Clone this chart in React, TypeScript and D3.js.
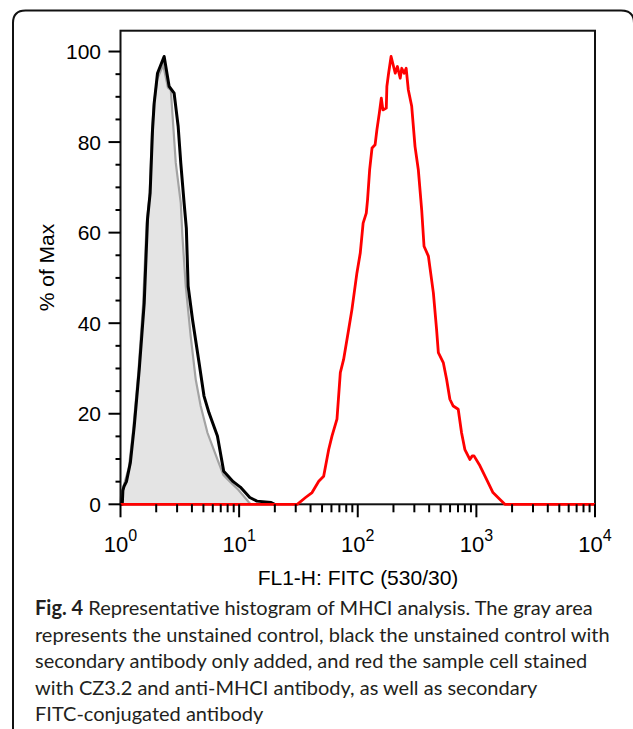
import React from 'react';
import * as d3 from 'd3';

const W = 633;
const H = 729;

// x tick exponents (decades) and y ticks
const xDecades = [0, 1, 2, 3, 4];
const yMajorTicks = [0, 20, 40, 60, 80, 100];
const yMinorTicks = [5, 10, 15, 25, 30, 35, 45, 50, 55, 65, 70, 75, 85, 90, 95];

// Gray: unstained control (filled)
const grayX = [1.0, 1.012, 1.047, 1.175, 1.274, 1.413, 1.549, 1.66, 1.758, 1.841, 1.905, 2.042, 2.291, 2.512, 2.655, 2.924, 3.221, 3.327, 3.548, 3.908, 4.305, 4.742, 5.408, 6.561, 7.36, 8.37, 9.84, 11.6, 12.3, 12.6];
const grayY = [0, 2, 3.5, 8, 16, 29, 44, 62, 68, 82, 88, 94, 97, 92, 91.5, 75.4, 66.6, 59.2, 48.2, 37.1, 27.6, 21.7, 15.8, 9.9, 6.5, 5.0, 3.2, 1.0, 0.2, 0];

// Black: unstained control + secondary antibody
const blackX = [1.0, 1.035, 1.047, 1.072, 1.122, 1.211, 1.306, 1.439, 1.585, 1.69, 1.778, 1.862, 1.923, 2.051, 2.333, 2.57, 2.831, 3.062, 3.221, 3.436, 3.589, 3.715, 4.046, 4.592, 5.058, 5.572, 6.561, 7.413, 8.913, 10.23, 12.3, 14.13, 18.62, 19.95];
const blackY = [0, 0, 3.0, 4.0, 5.0, 9.2, 17.3, 29.8, 44.5, 63, 68.8, 82.7, 88.6, 95.2, 98.9, 92.3, 90.8, 83.5, 75.4, 66.6, 61, 48.2, 40.8, 31.3, 23.9, 20.2, 15.1, 7.3, 5.0, 3.8, 1.5, 0.7, 0.4, 0];

// Red: CZ3.2 stained with anti-MHCI + FITC secondary
const redX = [1.0, 30.9, 36.3, 41.2, 46.9, 51.6, 56.9, 60.7, 66.8, 71.3, 76.0, 83.8, 89.3, 98.4, 105, 111, 118, 121, 126, 132, 140, 145, 152, 158, 163, 174, 176, 182, 191, 207, 216, 228, 235, 246, 256, 267, 285, 304, 324, 346, 362, 394, 434, 462, 478, 526, 561, 598, 638, 703, 750, 800, 881, 923, 955, 1072, 1219, 1380, 1574, 1738, 10000];
const redY = [0, 0, 1.5, 2.6, 5.1, 6.2, 12.1, 15.1, 18.8, 29.1, 32.0, 38.6, 43.0, 51.1, 55.5, 62.1, 64.3, 67.3, 73.9, 78.7, 79.4, 82.7, 86.4, 89.7, 87.1, 87.5, 92.3, 95.2, 98.9, 95.2, 96.7, 94.1, 96.3, 95.2, 96.3, 91.5, 87.9, 79.0, 73.9, 65, 57.0, 54.8, 46.7, 38.6, 33.5, 31.3, 27.6, 23.2, 21.7, 21.0, 15.8, 12.1, 9.9, 10.7, 10.7, 8.5, 5.5, 2.6, 1.1, 0, 0];

const captionLines = [
  'represents the unstained control, black the unstained control with',
  'secondary antibody only added, and red the sample cell stained',
  'with CZ3.2 and anti-MHCI antibody, as well as secondary',
  'FITC-conjugated antibody',
];

const left = 120.5;
const right = 595;
const top = 30.7;
const bottom = 504.3;

export default function App() {
  const x = d3.scaleLog().domain([1, 10000]).range([left, right]);
  const y = d3.scaleLinear().domain([0, 104.6]).range([bottom, top]);

  const zip = (xs: number[], ys: number[]) => xs.map((v, i) => [v, ys[i]] as [number, number]);
  const gray = zip(grayX, grayY);
  const black = zip(blackX, blackY);
  const red = zip(redX, redY);

  const line = d3.line<[number, number]>().x(d => x(d[0])).y(d => y(d[1]));
  const area = d3.area<[number, number]>().x(d => x(d[0])).y0(y(0)).y1(d => y(d[1]));

  const minorX: number[] = [];
  for (let dec = 0; dec < 4; dec++) {
    for (let m = 2; m <= 9; m++) minorX.push(m * Math.pow(10, dec));
  }

  const axisFont = "Arial, 'Liberation Sans', sans-serif";
  const capFont = "Lato, 'Open Sans', sans-serif";

  return (
    <svg width={W} height={H} style={{ position: 'absolute', left: 0, top: 0, background: '#fff' }}>
      <rect x={0} y={0} width={W} height={H} fill="#fff" />
      {/* outer rounded frame */}
      <path d={`M13,${H} V23 Q13,10.5 25.5,10.5 H621 Q634,10.5 634,23 V${H}`} fill="none" stroke="#111" strokeWidth={2} />

      {/* gray area */}
      <path d={area(gray) || ''} fill="#e4e4e4" stroke="none" />
      <path d={line(gray) || ''} fill="none" stroke="#a3a3a3" strokeWidth={2.2} />

      {/* plot box */}
      <rect x={left} y={top} width={right - left} height={bottom - top} fill="none" stroke="#111" strokeWidth={2} />

      {/* black line */}
      <path d={line(black) || ''} fill="none" stroke="#000" strokeWidth={3} strokeLinejoin="round" />
      {/* red line */}
      <path d={line(red) || ''} fill="none" stroke="#ff0000" strokeWidth={2.8} strokeLinejoin="round" />

      {/* y ticks */}
      {yMajorTicks.map(t => (
        <g key={'ym' + t}>
          <line x1={left - 12} x2={left} y1={y(t)} y2={y(t)} stroke="#000" strokeWidth={2} />
          <text x={101} y={y(t) + 7.5} textAnchor="end" fontFamily={axisFont} fontSize={21} fill="#000">{t}</text>
        </g>
      ))}
      {yMinorTicks.map(t => (
        <line key={'yn' + t} x1={left - 5} x2={left} y1={y(t)} y2={y(t)} stroke="#000" strokeWidth={2} />
      ))}

      {/* x ticks */}
      {xDecades.map(e => {
        const v = Math.pow(10, e);
        return (
          <g key={'xm' + e}>
            <line x1={x(v)} x2={x(v)} y1={bottom} y2={bottom + 13} stroke="#000" strokeWidth={2} />
            <text x={x(v)} y={552} textAnchor="middle" fontFamily={axisFont} fontSize={22} fill="#000">
              10<tspan dy={-11} fontSize={16}>{e}</tspan>
            </text>
          </g>
        );
      })}
      {minorX.map(v => (
        <line key={'xn' + v} x1={x(v)} x2={x(v)} y1={bottom} y2={bottom + 8} stroke="#000" strokeWidth={2} />
      ))}

      {/* axis titles */}
      <text x={358} y={585} textAnchor="middle" fontFamily={axisFont} fontSize={21} fill="#000">FL1-H: FITC (530/30)</text>
      <text transform={`translate(54, ${(top + bottom) / 2}) rotate(-90)`} textAnchor="middle" fontFamily={axisFont} fontSize={21} fill="#000">% of Max</text>

      {/* caption */}
      <text x={35} y={615} fontFamily={capFont} fontSize={20} fill="#231f20">
        <tspan fontWeight="bold">Fig. 4</tspan> Representative histogram of MHCI analysis. The gray area
      </text>
      {captionLines.map((l, i) => (
        <text key={i} x={35} y={642 + i * 26.3} fontFamily={capFont} fontSize={20} fill="#231f20">{l}</text>
      ))}
    </svg>
  );
}
